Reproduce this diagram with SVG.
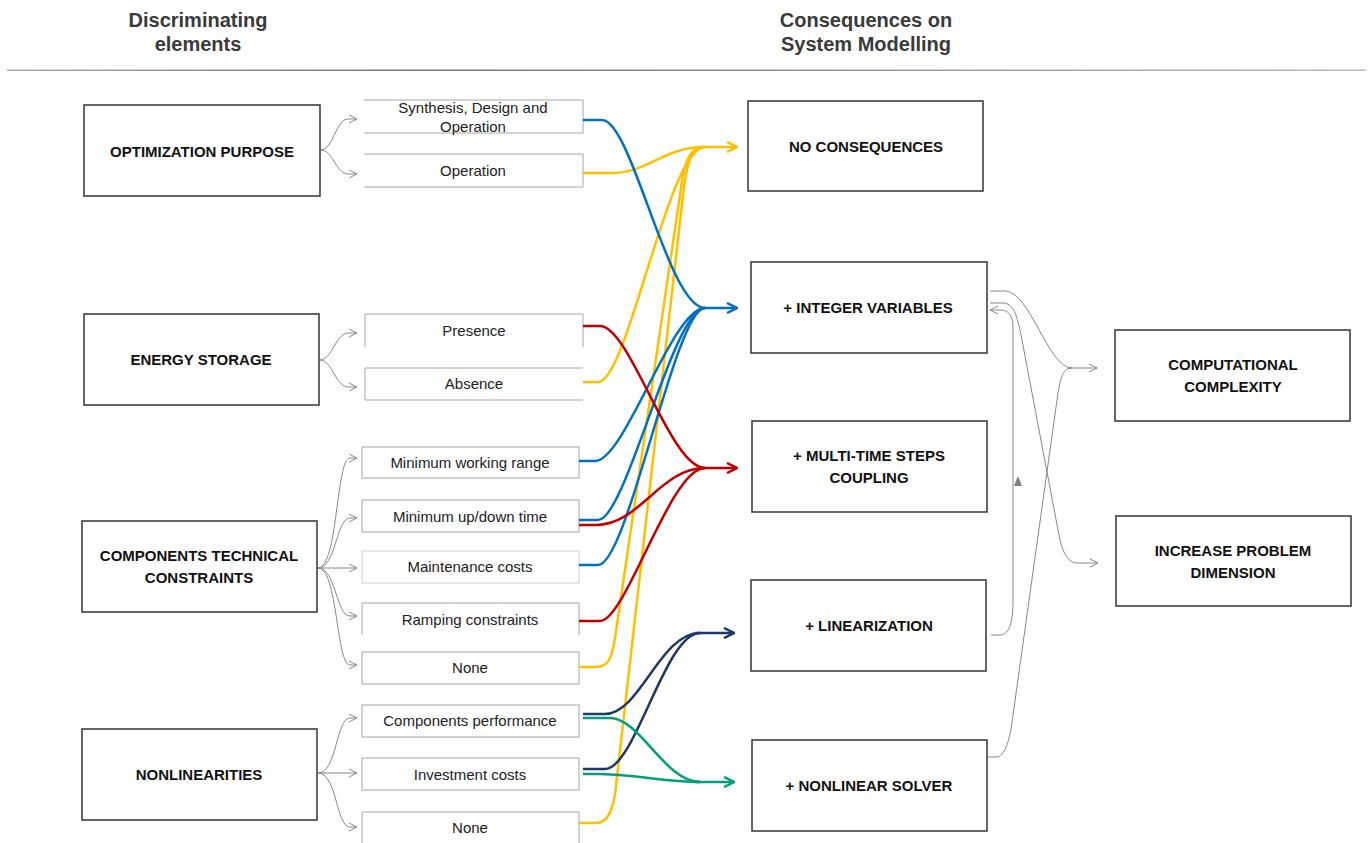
<svg xmlns="http://www.w3.org/2000/svg" width="1370" height="843" viewBox="0 0 1370 843">
<style>
.hdr{font-family:"Liberation Sans",Arial,sans-serif;font-weight:bold;font-size:20px;fill:#3a3a3a;text-anchor:middle}
.bt{font-family:"Liberation Sans",Arial,sans-serif;font-weight:bold;font-size:15px;fill:#111;text-anchor:middle}
.ot{font-family:"Liberation Sans",Arial,sans-serif;font-size:15px;fill:#222;text-anchor:middle}
.box{fill:#fff;stroke:#333;stroke-width:1.5}
.obox{fill:none;stroke:#a6a6a6;stroke-width:1}
.g{fill:none;stroke:#888;stroke-width:1}
.c{fill:none;stroke-width:2.5}
.blue{stroke:#0070C0}.yel{stroke:#FFC000}.red{stroke:#C00000}.navy{stroke:#1F3864}.grn{stroke:#00A07A}
</style>
<defs>
<marker id="ag" viewBox="0 0 10 10" refX="9" refY="5" markerWidth="10" markerHeight="10" markerUnits="userSpaceOnUse" orient="auto"><path d="M1,1 L9,5 L1,9" fill="none" stroke="#888" stroke-width="1"/></marker>
<marker id="ab" viewBox="0 0 12 12" refX="11" refY="6" markerWidth="12" markerHeight="12" markerUnits="userSpaceOnUse" orient="auto"><path d="M1,1 L11,6 L1,11" fill="none" stroke="#0070C0" stroke-width="2.5"/></marker>
<marker id="ay" viewBox="0 0 12 12" refX="11" refY="6" markerWidth="12" markerHeight="12" markerUnits="userSpaceOnUse" orient="auto"><path d="M1,1 L11,6 L1,11" fill="none" stroke="#FFC000" stroke-width="2.5"/></marker>
<marker id="ar" viewBox="0 0 12 12" refX="11" refY="6" markerWidth="12" markerHeight="12" markerUnits="userSpaceOnUse" orient="auto"><path d="M1,1 L11,6 L1,11" fill="none" stroke="#C00000" stroke-width="2.5"/></marker>
<marker id="an" viewBox="0 0 12 12" refX="11" refY="6" markerWidth="12" markerHeight="12" markerUnits="userSpaceOnUse" orient="auto"><path d="M1,1 L11,6 L1,11" fill="none" stroke="#1F3864" stroke-width="2.5"/></marker>
<marker id="agr" viewBox="0 0 12 12" refX="11" refY="6" markerWidth="12" markerHeight="12" markerUnits="userSpaceOnUse" orient="auto"><path d="M1,1 L11,6 L1,11" fill="none" stroke="#00A07A" stroke-width="2.5"/></marker>
<linearGradient id="hl" x1="0" x2="1" y1="0" y2="0"><stop offset="0" stop-color="#aaa"/><stop offset="0.3" stop-color="#777"/><stop offset="1" stop-color="#bbb"/></linearGradient>
</defs>
<rect width="1370" height="843" fill="#fff"/>

<g id="headers">
<text class="hdr" x="198" y="27">Discriminating</text>
<text class="hdr" x="198" y="51">elements</text>
<text class="hdr" x="866" y="27">Consequences on</text>
<text class="hdr" x="866" y="51">System Modelling</text>
<rect x="7" y="69.5" width="1359" height="1.5" fill="url(#hl)"/>
</g>

<g id="n-opt"><rect class="box" x="84" y="105" width="236" height="91"/><text class="bt" x="202" y="157">OPTIMIZATION PURPOSE</text></g>
<g id="n-es"><rect class="box" x="84" y="314" width="235" height="91"/><text class="bt" x="201" y="365">ENERGY STORAGE</text></g>
<g id="n-ctc"><rect class="box" x="82" y="521" width="235" height="91"/><text class="bt" x="199" y="561">COMPONENTS TECHNICAL</text><text class="bt" x="199" y="583">CONSTRAINTS</text></g>
<g id="n-nl"><rect class="box" x="82" y="729" width="235" height="91"/><text class="bt" x="199" y="780">NONLINEARITIES</text></g>

<g id="o-sdo"><path class="obox" d="M364,100 H583 V133 H364"/><text class="ot" x="473" y="113">Synthesis, Design and</text><text class="ot" x="473" y="132">Operation</text></g>
<g id="o-op"><path class="obox" d="M364,154 H583 V187 H364"/><text class="ot" x="473" y="176">Operation</text></g>
<g id="o-pres"><path class="obox" d="M365,347 V314 H583 V347"/><text class="ot" x="474" y="336">Presence</text></g>
<g id="o-abs"><path class="obox" d="M583,368 H365 V400 H583"/><text class="ot" x="474" y="389">Absence</text></g>
<g id="o-mwr"><rect class="obox" x="362" y="447" width="217" height="31"/><text class="ot" x="470" y="468">Minimum working range</text></g>
<g id="o-mud"><rect class="obox" x="362" y="500" width="217" height="32"/><text class="ot" x="470" y="522">Minimum up/down time</text></g>
<g id="o-mc"><rect class="obox" x="362" y="551" width="217" height="32" style="stroke:#cfcfcf"/><text class="ot" x="470" y="572">Maintenance costs</text></g>
<g id="o-rc"><path class="obox" d="M362,635 V603 H579 V635"/><text class="ot" x="470" y="625">Ramping constraints</text></g>
<g id="o-none1"><rect class="obox" x="362" y="652" width="217" height="32"/><text class="ot" x="470" y="673">None</text></g>
<g id="o-cp"><rect class="obox" x="362" y="705" width="217" height="32"/><text class="ot" x="470" y="726">Components performance</text></g>
<g id="o-ic"><rect class="obox" x="362" y="758" width="217" height="32"/><text class="ot" x="470" y="780">Investment costs</text></g>
<g id="o-none2"><path class="obox" d="M362,843 V812 H579 V843"/><text class="ot" x="470" y="833">None</text></g>

<g id="r-noc"><rect class="box" x="748" y="101" width="235" height="90"/><text class="bt" x="866" y="152">NO CONSEQUENCES</text></g>
<g id="r-int"><rect class="box" x="751" y="262" width="236" height="91"/><text class="bt" x="868" y="313">+ INTEGER VARIABLES</text></g>
<g id="r-mts"><rect class="box" x="752" y="421" width="235" height="91"/><text class="bt" x="869" y="461">+ MULTI-TIME STEPS</text><text class="bt" x="869" y="483">COUPLING</text></g>
<g id="r-lin"><rect class="box" x="751" y="580" width="235" height="91"/><text class="bt" x="869" y="631">+ LINEARIZATION</text></g>
<g id="r-nls"><rect class="box" x="752" y="740" width="235" height="91"/><text class="bt" x="869" y="791">+ NONLINEAR SOLVER</text></g>
<g id="r-cc"><rect class="box" x="1115" y="330" width="235" height="91"/><text class="bt" x="1233" y="370">COMPUTATIONAL</text><text class="bt" x="1233" y="392">COMPLEXITY</text></g>
<g id="r-ipd"><rect class="box" x="1116" y="516" width="235" height="90"/><text class="bt" x="1233" y="556">INCREASE PROBLEM</text><text class="bt" x="1233" y="578">DIMENSION</text></g>

<g id="connectors">
<!-- left branch arrows -->
<path class="g" marker-end="url(#ag)" d="M321,150 C333,150 336,119 348,119 L357,119"/>
<path class="g" marker-end="url(#ag)" d="M321,150 C333,150 336,174 348,174 L357,174"/>
<path class="g" marker-end="url(#ag)" d="M320,360 C332,360 336,333 348,333 L357,333"/>
<path class="g" marker-end="url(#ag)" d="M320,360 C332,360 336,387 348,387 L357,387"/>
<path class="g" marker-end="url(#ag)" d="M318,568 C338,568 336,458 350,458 L357,458"/>
<path class="g" marker-end="url(#ag)" d="M318,568 C336,568 336,518 350,518 L357,518"/>
<path class="g" marker-end="url(#ag)" d="M318,568 L357,568"/>
<path class="g" marker-end="url(#ag)" d="M318,568 C336,568 336,616 350,616 L357,616"/>
<path class="g" marker-end="url(#ag)" d="M318,568 C338,568 336,665 350,665 L357,665"/>
<path class="g" marker-end="url(#ag)" d="M318,773 C337,773 336,718 350,718 L357,718"/>
<path class="g" marker-end="url(#ag)" d="M318,773 L357,773"/>
<path class="g" marker-end="url(#ag)" d="M318,773 C337,773 336,827 350,827 L357,827"/>

<!-- yellow: no consequences -->
<path class="c yel" d="M583,173 L610,173 C650,173 662,147 705,147"/>
<path class="c yel" d="M583,382 L598,382 C628,382 668,147 705,147"/>
<path class="c yel" d="M579,667 L596,667 C610,667 612,655 615,638 L680,195 C684,160 690,147 705,147"/>
<path class="c yel" d="M579,823 L596,823 C608,823 612,810 615,795 L683,195 C687,160 692,147 705,147"/>
<path class="c yel" marker-end="url(#ay)" d="M700,147 L737,147"/>

<!-- blue: integer variables -->
<path class="c blue" d="M583,120 L602,120 C632,120 668,308 705,308"/>
<path class="c blue" d="M579,461 L595,461 C625,461 672,308 705,308"/>
<path class="c blue" d="M579,520 L598,520 C626,520 673,308 705,308"/>
<path class="c blue" d="M579,565 L598,565 C628,565 675,308 705,308"/>
<path class="c blue" marker-end="url(#ab)" d="M700,308 L737,308"/>

<!-- red: multi-time steps -->
<path class="c red" d="M583,326 L600,326 C630,326 670,468 705,468"/>
<path class="c red" d="M579,525 L596,525 C640,525 660,468 705,468"/>
<path class="c red" d="M579,621 L600,621 C626,621 670,468 705,468"/>
<path class="c red" marker-end="url(#ar)" d="M700,468 L737,468"/>

<!-- navy: linearization -->
<path class="c navy" d="M583,714 L605,714 C640,714 660,633 700,633"/>
<path class="c navy" d="M583,769 L605,769 C635,769 665,633 700,633"/>
<path class="c navy" marker-end="url(#an)" d="M695,633 L734,633"/>

<!-- green: nonlinear solver -->
<path class="c grn" d="M583,718 L610,718 C640,718 665,782 700,782"/>
<path class="c grn" d="M583,774 L600,774 C640,775 665,782 700,782"/>
<path class="c grn" marker-end="url(#agr)" d="M695,782 L734,782"/>

<!-- right gray connectors -->
<path class="g" d="M990,291 L1005,291 C1030,291 1048,368 1072,368"/>
<path class="g" d="M988,757 L996,757 C1005,757 1010,740 1013,715 L1058,393 C1061,375 1064,368 1072,368"/>
<path class="g" marker-end="url(#ag)" d="M1068,368 L1097,368"/>
<path class="g" marker-end="url(#ag)" d="M990,303 L1003,303 C1015,303 1018,320 1022,340 L1058,530 C1062,552 1067,563 1078,563 L1098,563"/>
<path class="g" marker-end="url(#ag)" d="M991,635 L1000,635 C1010,635 1013,620 1013,600 L1013,328 C1013,315 1008,310 1000,310 L990,310"/>
<path d="M1014,486 L1022,486 L1018,476 Z" fill="#7f7f7f"/>
</g>
</svg>
